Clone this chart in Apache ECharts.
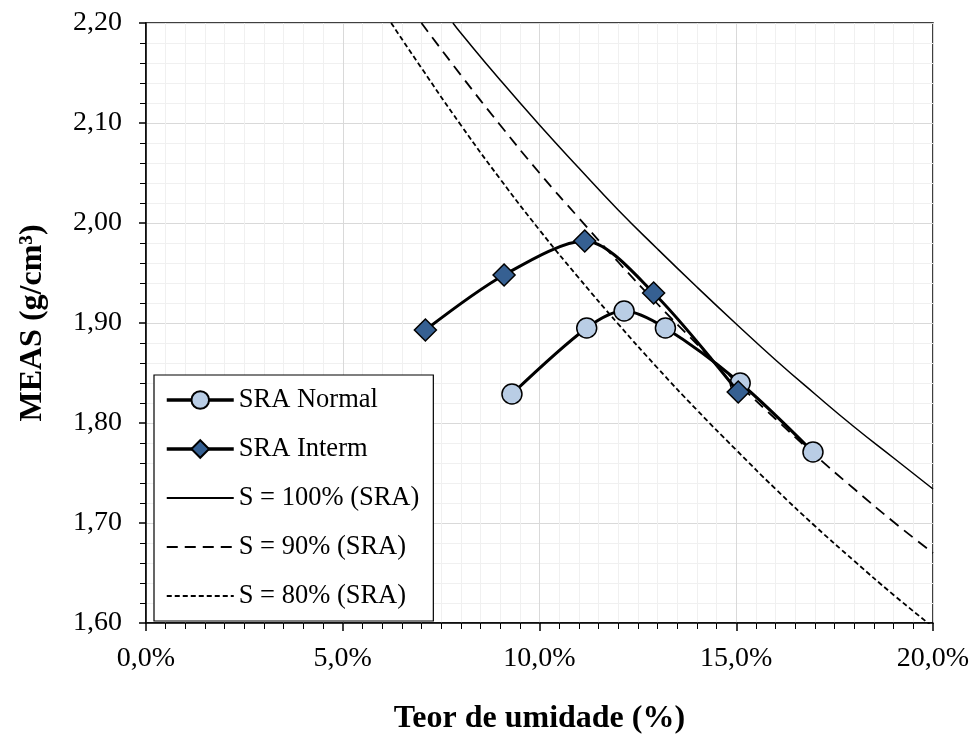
<!DOCTYPE html>
<html>
<head>
<meta charset="utf-8">
<script src="https://cdn.jsdelivr.net/npm/echarts@6/dist/echarts.min.js"></script>
<style>
  html, body { margin: 0; padding: 0; background: #fff; }
  #chart { width: 969px; height: 744px; }
</style>
</head>
<body>
<div id="chart"></div>
<script>
// ensaios de compactação (teor de umidade %, MEAS g/cm3)
const normalW = [9.3, 11.2, 12.15, 13.2, 15.1, 16.95];
const normalD = [1.829, 1.895, 1.912, 1.895, 1.840, 1.771];
const intermW = [7.1, 9.1, 11.15, 12.9, 15.05];
const intermD = [1.893, 1.948, 1.982, 1.930, 1.831];

// curvas de saturação
const s100W = [7.8, 8, 9, 10, 11, 12, 13, 14, 15, 16, 17, 18, 19, 20];
const s100D = [2.200, 2.190, 2.143, 2.098, 2.055, 2.013, 1.974, 1.936, 1.899, 1.863, 1.829, 1.796, 1.765, 1.734];
const s90W = [7.0, 8, 9, 10, 11, 12, 13, 14, 15, 16, 17, 18, 19, 20];
const s90D = [2.200, 2.148, 2.098, 2.050, 2.005, 1.961, 1.919, 1.879, 1.841, 1.804, 1.768, 1.734, 1.701, 1.670];
const s80W = [6.23, 7, 8, 9, 10, 11, 12, 13, 14, 15, 16, 17, 18, 19, 20];
const s80D = [2.200, 2.155, 2.098, 2.044, 1.993, 1.945, 1.899, 1.855, 1.813, 1.773, 1.734, 1.697, 1.662, 1.628, 1.596];

const xTicks = [0, 5, 10, 15, 20];
const yTicks = [1.6, 1.7, 1.8, 1.9, 2.0, 2.1, 2.2];

const serif = "'Liberation Serif', 'DejaVu Serif', serif";

function pairs(xs, ys) {
  return xs.map((x, i) => [x, ys[i]]);
}

const chart = echarts.init(document.getElementById("chart"));

chart.setOption({
  animation: false,
  backgroundColor: "#fff",
  textStyle: { fontFamily: serif, color: "#000" },
  grid: {
    left: 146,
    right: 36,
    top: 23,
    bottom: 121,
    outerBoundsMode: "none",
    containLabel: false,
    show: true,
    borderColor: "#000",
    borderWidth: 1.5,
  },
  legend: {
    orient: "vertical",
    left: 154,
    top: 375,
    padding: [11, 14, 11, 11],
    itemGap: 21,
    itemWidth: 67,
    itemHeight: 22,
    backgroundColor: "#fff",
    borderColor: "#000",
    borderWidth: 1.2,
    textStyle: { fontFamily: serif, fontSize: 26.5, lineHeight: 28, color: "#000" },
    data: [
      { name: "SRA Normal", lineStyle: { width: 3.5 } },
      { name: "SRA Interm", lineStyle: { width: 3.5 } },
      { name: "S = 100% (SRA)" },
      { name: "S = 90% (SRA)" },
      { name: "S = 80% (SRA)" },
    ],
  },
  xAxis: {
    type: "value",
    min: xTicks[0],
    max: xTicks[xTicks.length - 1],
    interval: 5,
    name: "Teor de umidade (%)",
    nameLocation: "middle",
    nameGap: 80,
    nameTextStyle: { fontFamily: serif, fontSize: 32, fontWeight: "bold", color: "#000" },
    axisLine: { onZero: false, lineStyle: { color: "#000", width: 1.5 } },
    axisTick: { show: true, length: 8, lineStyle: { color: "#000", width: 1.5 } },
    minorTick: { show: true, splitNumber: 10, length: 6, lineStyle: { color: "#000", width: 1 } },
    axisLabel: {
      fontFamily: serif,
      fontSize: 28,
      color: "#000",
      margin: 22,
      formatter: (v) => v.toFixed(1).replace(".", ",") + "%",
    },
    splitLine: { show: true, lineStyle: { color: "#d9d9d9", width: 1 } },
    minorSplitLine: { show: true, lineStyle: { color: "#f0f0f0", width: 1 } },
  },
  yAxis: {
    type: "value",
    min: yTicks[0],
    max: yTicks[yTicks.length - 1],
    interval: 0.1,
    name: "MEAS (g/cm³)",
    nameLocation: "middle",
    nameGap: 97,
    nameRotate: 90,
    nameTextStyle: { fontFamily: serif, fontSize: 32, fontWeight: "bold", color: "#000" },
    axisLine: { show: true, onZero: false, lineStyle: { color: "#000", width: 1.5 } },
    axisTick: { show: true, length: 7, lineStyle: { color: "#000", width: 1.5 } },
    minorTick: { show: true, splitNumber: 5, length: 6, lineStyle: { color: "#000", width: 1 } },
    axisLabel: {
      fontFamily: serif,
      fontSize: 28,
      color: "#000",
      margin: 24,
      formatter: (v) => v.toFixed(2).replace(".", ","),
    },
    splitLine: { show: true, lineStyle: { color: "#d9d9d9", width: 1 } },
    minorSplitLine: { show: true, lineStyle: { color: "#f0f0f0", width: 1 } },
  },
  series: [
    {
      name: "SRA Normal",
      type: "line",
      z: 5,
      smooth: 0.3,
      data: pairs(normalW, normalD),
      symbol: "circle",
      symbolSize: 20,
      lineStyle: { color: "#000", width: 3 },
      itemStyle: { color: "#b9cde5", borderColor: "#000", borderWidth: 1.5 },
    },
    {
      name: "SRA Interm",
      type: "line",
      z: 6,
      smooth: 0.3,
      data: pairs(intermW, intermD),
      symbol: "diamond",
      symbolSize: 22,
      lineStyle: { color: "#000", width: 3 },
      itemStyle: { color: "#366092", borderColor: "#000", borderWidth: 1.5 },
    },
    {
      name: "S = 100% (SRA)",
      type: "line",
      z: 3,
      smooth: true,
      showSymbol: false,
      symbol: "none",
      data: pairs(s100W, s100D),
      lineStyle: { color: "#000", width: 1.5, type: "solid" },
      itemStyle: { color: "rgba(0,0,0,0)", borderWidth: 0 },
    },
    {
      name: "S = 90% (SRA)",
      type: "line",
      z: 3,
      smooth: true,
      showSymbol: false,
      symbol: "none",
      data: pairs(s90W, s90D),
      lineStyle: { color: "#000", width: 1.8, type: [11, 7] },
      itemStyle: { color: "rgba(0,0,0,0)", borderWidth: 0 },
    },
    {
      name: "S = 80% (SRA)",
      type: "line",
      z: 3,
      smooth: true,
      showSymbol: false,
      symbol: "none",
      data: pairs(s80W, s80D),
      lineStyle: { color: "#000", width: 1.8, type: [5, 3] },
      itemStyle: { color: "rgba(0,0,0,0)", borderWidth: 0 },
    },
  ],
});
</script>
</body>
</html>
